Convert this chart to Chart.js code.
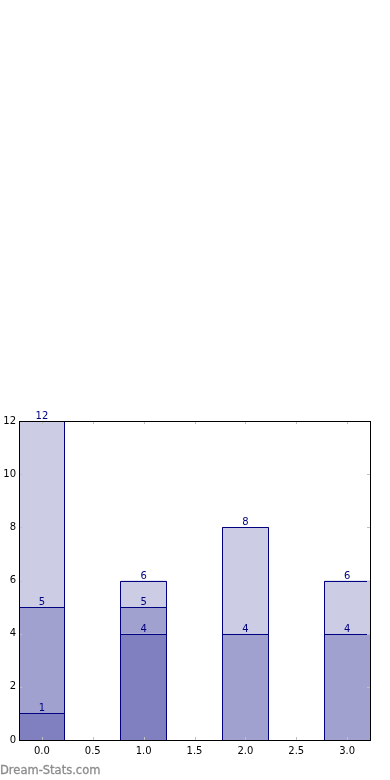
<!DOCTYPE html>
<html>
<head>
<meta charset="utf-8">
<script src="https://cdn.jsdelivr.net/npm/chart.js@4/dist/chart.umd.min.js"></script>
<style>
  html, body { margin: 0; padding: 0; background: #fff; }
  #wrap { position: relative; width: 390px; height: 780px; }
  #grafica { display: block; }
  #mark { position: absolute; left: 0; top: 763px; font: 11.5px "DejaVu Sans", sans-serif; color: #8c8c8c; -webkit-text-stroke: 0.3px #8c8c8c; }
</style>
</head>
<body>
<div id="wrap">
  <canvas id="grafica" width="390" height="780"></canvas>
  <div id="mark">Dream-Stats.com</div>
</div>
<script>
const positions = [0, 1, 2, 3];
const bottomPart = [1, 4, null, null];
const middlePart = [4, 1, 4, 4];
const topPart = [7, 1, 4, 2];
const xTicks = [0, 0.5, 1, 1.5, 2, 2.5, 3];
const yTicks = [0, 2, 4, 6, 8, 10, 12];

const navy = '#000080';

function points(values) {
    return positions.map((x, i) => ({ x: x, y: values[i] }));
}

// crisp bar outlines, running totals, inward ticks, frame
const extras = {
    id: 'extras',
    afterDatasetsDraw(chart) {
        const c = chart.ctx;
        const area = chart.chartArea;
        const xs = chart.scales.x, ys = chart.scales.y;
        const sets = chart.data.datasets;

        c.save();
        c.strokeStyle = navy;
        c.lineWidth = 1;
        positions.forEach((p, i) => {
            const bars = sets.map((ds, d) => ds.data[i].y == null ? null : chart.getDatasetMeta(d).data[i])
                .filter(b => b);
            const first = bars[0];
            const l = Math.floor(first.x - first.width / 2 + 0.01) + 0.5;
            const r = Math.floor(first.x + first.width / 2 + 0.01) + 0.5;
            const b = Math.round(first.base) + 0.5;
            const top = Math.round(bars[bars.length - 1].y) + 0.5;
            c.beginPath();
            c.moveTo(l, b); c.lineTo(l, top); c.lineTo(r, top); c.lineTo(r, b);
            bars.forEach(bar => {
                const t = Math.round(bar.y) + 0.5;
                c.moveTo(l, t); c.lineTo(r, t);
            });
            c.stroke();
        });

        c.font = '10px "DejaVu Sans"';
        c.fillStyle = navy;
        c.textAlign = 'center';
        c.textBaseline = 'alphabetic';
        sets.forEach((ds, d) => {
            chart.getDatasetMeta(d).data.forEach((bar, i) => {
                if (ds.data[i].y == null) return;
                let total = 0;
                for (let k = 0; k <= d; k++) total += sets[k].data[i].y || 0;
                c.fillText(String(total), bar.x, Math.round(bar.y) - 2);
            });
        });

        c.strokeStyle = '#c0c0c0';
        c.beginPath();
        xTicks.forEach(v => {
            const px = Math.round(xs.getPixelForValue(v)) + 0.5;
            c.moveTo(px, area.bottom); c.lineTo(px, area.bottom - 3);
            c.moveTo(px, area.top); c.lineTo(px, area.top + 3);
        });
        yTicks.forEach(v => {
            const py = Math.round(ys.getPixelForValue(v)) + 0.5;
            c.moveTo(area.left, py); c.lineTo(area.left + 3, py);
            c.moveTo(area.right, py); c.lineTo(area.right - 3, py);
        });
        c.stroke();

        c.strokeStyle = '#000';
        c.strokeRect(Math.round(area.left) + 0.5, Math.round(area.top) + 0.5,
            Math.round(area.right - area.left), Math.round(area.bottom - area.top));
        c.restore();
    }
};

new Chart(document.getElementById('grafica'), {
    type: 'bar',
    data: {
        datasets: [{
            data: points(bottomPart),
            backgroundColor: 'rgb(128, 128, 192)'
        }, {
            data: points(middlePart),
            backgroundColor: 'rgb(161, 161, 208)'
        }, {
            data: points(topPart),
            backgroundColor: 'rgb(204, 204, 229)'
        }]
    },
    options: {
        responsive: false,
        animation: false,
        devicePixelRatio: 1,
        layout: { padding: { top: 421, right: 20, left: 0, bottom: 0 } },
        datasets: {
            bar: {
                borderWidth: 0,
                inflateAmount: 0,
                barPercentage: 0.9,
                categoryPercentage: 1
            }
        },
        plugins: {
            legend: { display: false },
            tooltip: { enabled: false }
        },
        scales: {
            x: {
                type: 'linear',
                stacked: true,
                offset: false,
                min: -0.225,
                max: 3.225,
                afterBuildTicks: s => { s.ticks = xTicks.map(v => ({ value: v })); },
                afterFit: s => { s.height = 40; },
                grid: { display: false, drawTicks: false, offset: false },
                border: { display: false },
                ticks: {
                    padding: 5,
                    color: '#000',
                    font: { family: 'DejaVu Sans', size: 10 },
                    maxRotation: 0,
                    callback: v => v.toFixed(1)
                }
            },
            y: {
                stacked: true,
                min: 0,
                max: 12,
                afterBuildTicks: s => { s.ticks = yTicks.map(v => ({ value: v })); },
                afterFit: s => { s.width = 19; },
                grid: { display: false, drawTicks: false },
                border: { display: false },
                ticks: {
                    padding: 3,
                    color: '#000',
                    font: { family: 'DejaVu Sans', size: 10 }
                }
            }
        }
    },
    plugins: [extras]
});
</script>
</body>
</html>
